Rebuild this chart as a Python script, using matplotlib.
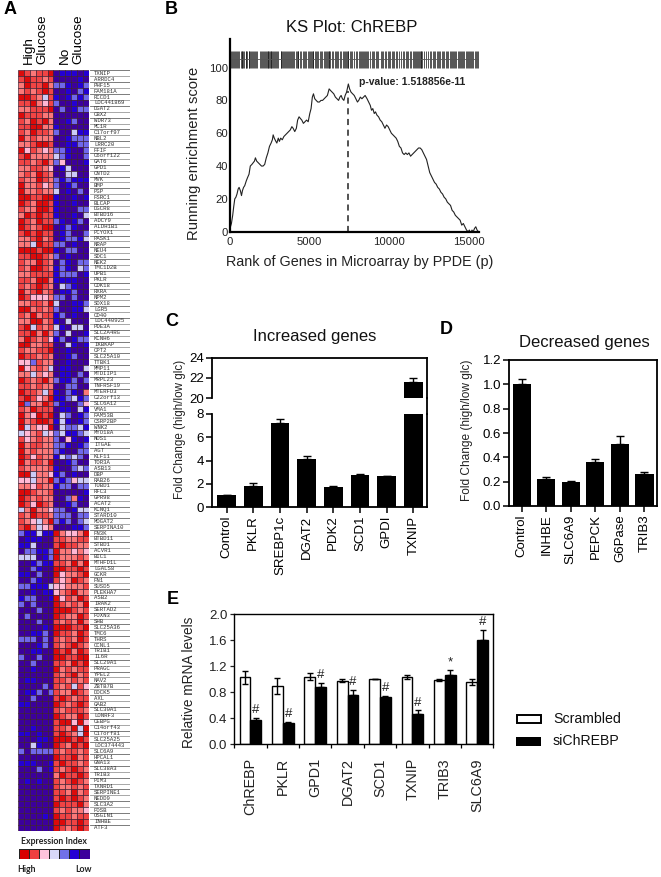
#!/usr/bin/env python3
"""Five-panel figure: expression heatmap, KS plot and three bar panels."""
import matplotlib
matplotlib.use("Agg")
import matplotlib.pyplot as plt
import numpy as np
from matplotlib.colors import ListedColormap
from matplotlib.lines import Line2D
from matplotlib.patches import Rectangle

W, H = 661, 877
plt.rcParams.update({"font.family": ["Liberation Sans", "DejaVu Sans"], "font.size": 9})

# ── Panel A data ──────────────────────────────────────────────────────────────
GENES = [
    "TXNIP", "ARRDC4", "PHF15", "FAM181A", "RCCD1", "LOC441869", "DGAT2", "CBX2", "WDR73", "MC1R",
    "C17orf97", "NBL2", "LRRC20", "FFIF", "C6orf122", "GAT6", "GPD1", "CNTD2", "MVK", "BMP",
    "PGP", "FSRC1", "BLCAP", "DGCR8", "BTBD16", "ADCY9", "ALDH1B1", "PCYOX1", "PASK1", "NRAP",
    "NEU4", "SDC1", "NEK2", "TMC1D2B", "UPB1", "PKLR", "CDK18", "RXRA", "NPM2", "SOX18",
    "LGR5", "CD40", "LOC440925", "PDE3A", "SLC2A4RG", "KCNH6", "IKBKAP", "CPT2", "SLC25A10", "TTBK1",
    "MMP11", "MTDIIP1", "MRPL23", "TNFRSF19", "MTERFD3", "C22orf13", "SLC6A12", "VMA1", "FAM53B", "CSRP2BP",
    "WNK2", "MYO18A", "NOS1", "ITGAE", "AGT", "KLF11", "TOR3A", "ASB13", "DBP", "RAB26",
    "TUBD1", "RFC3", "GPR98", "ACAT2", "KCNQ1", "STARD10", "MOGAT2", "SERPINA10", "FN3K", "BTBD11",
    "STBD1", "ACVR1", "BIC1", "MTHFD1L", "LGALS8", "GCKR", "FN1", "SUSD5", "PLEKHA7", "ASB2",
    "IRAK2", "SERTAD2", "FOXN3", "SHB", "SLC25A36", "TMC6", "THRS", "CCNL1", "TRIB1", "IL6R",
    "SLC29A1", "PRAGC", "YPEL2", "NAV2", "ZBTB7B", "DOCK5", "AXL", "GAB2", "SLC30A1", "LONRF3",
    "CEBPG", "C14orf43", "C17orf81", "SLC25A25", "LOC374443", "SLC6A9", "HPCAL1", "GNA13", "SLC38A3", "TRIB3",
    "PIM3", "TXNRD1", "SERPINE1", "NEDD9", "SLC3A2", "FOSB", "OSGIN1", "INHBE", "ATF3",
]
# one digit per cell, 0 = strongest red ... 7 = darkest indigo
HEAT_ROWS = [
    "012110766676", "101121777767", "201102556765", "212101776756", "001241676565",
    "110231577677", "221110757655", "011122777777", "120102776577", "110022677777",
    "120112577466", "021222776555", "221001776655", "031232556775", "102222456775",
    "112102537776", "221123764777", "212012774477", "122012565666", "022132576577",
    "022122476757", "001100677676", "012001677677", "122001677755", "201011677674",
    "012011567657", "012100765677", "101011765775", "221021765564", "224011557677",
    "000100675577", "110012576777", "122012756755", "120012656745", "221111655576",
    "112002666677", "121012745677", "021021766577", "013332557577", "221120477665",
    "002121577664", "120211657677", "220021674777", "104121467447", "110202574776",
    "201213657655", "002211774676", "122110776777", "011212776577", "335122776777",
    "032124766774", "224232766757", "012102566575", "112122775577", "011241675672",
    "101320665465", "052201567753", "120111766746", "023010745765", "021001646765",
    "042330745546", "432143546654", "132122573676", "021122556765", "021222567755",
    "013122645457", "021120776577", "122221677545", "004223657677", "334220565344",
    "223122655755", "001221777776", "012122775267", "013012776577", "420223557644",
    "120112555755", "123420565754", "102432777665",
    "566466023320", "766677112211", "664777101122", "755665022323", "444765022212",
    "776566112020", "775677001101", "667577032210", "775677132012", "556664332221",
    "776766321022", "655776031201", "575777012120", "777577000121", "757777012201",
    "777577121202", "777767000110", "776657011201", "555757121201", "777657121012",
    "776677010201", "577577001100", "775777112010", "776777021211", "777777121021",
    "766777112121", "777757121413", "766575122012", "775777101211", "667777012101",
    "777777121112", "777777012201", "777777100303", "776777112040", "667677101240",
    "777667000101", "774677012010", "575555121121", "777777011021", "666776101121",
    "777576121012", "777777201101", "767677121012", "777777122121", "777777112021",
    "777777101012", "777777011102", "777777121223", "777767011211", "777777001101",
    "777777012101",
]
HEAT_COLORS = ["#dc0a0a", "#f04444", "#fb7878", "#ffb8d4", "#ccccf6", "#7068ea", "#2400d4", "#3c009c"]
SCALE_COLORS = ["#d80000", "#ee4040", "#ffc4dc", "#d8d8f8", "#7070e8", "#2400d4", "#3c009c"]

# ── Panel B data ──────────────────────────────────────────────────────────────
KS_RANK = [
    0, 60, 120, 200, 260, 330, 400, 470, 540, 600, 680, 750, 810, 880, 950, 1050, 1130, 1220, 1300, 1400,
    1480, 1560, 1620, 1700, 1800, 1900, 2000, 2100, 2200, 2300, 2400, 2500, 2600, 2680, 2730, 2800, 2900, 2960, 3050, 3120,
    3200, 3300, 3400, 3500, 3600, 3700, 3800, 3900, 3980, 4080, 4180, 4260, 4350, 4430, 4520, 4620, 4720, 4820, 4920, 5020,
    5100, 5180, 5250, 5330, 5420, 5520, 5620, 5720, 5820, 5920, 6020, 6120, 6230, 6320, 6420, 6520, 6620, 6720, 6820, 6900,
    6980, 7060, 7150, 7230, 7320, 7430, 7510, 7600, 7700, 7800, 7900, 8000, 8080, 8180, 8280, 8380, 8480, 8600, 8700, 8800,
    8880, 8960, 9050, 9130, 9220, 9320, 9420, 9520, 9620, 9720, 9820, 9920, 10020, 10120, 10220, 10320, 10420, 10520, 10620, 10720,
    10820, 10920, 11020, 11120, 11220, 11320, 11420, 11520, 11620, 11720, 11820, 11920, 12020, 12120, 12220, 12320, 12420, 12520, 12620, 12720,
    12820, 12920, 13020, 13120, 13220, 13320, 13420, 13520, 13620, 13720, 13820, 13920, 14020, 14120, 14220, 14320, 14420, 14520, 14620, 14720,
    14820, 14920, 15000, 15080, 15160, 15240, 15320, 15400, 15480, 15570,
]
KS_SCORE = [
    0, 3, 5, 10, 15, 20, 21, 23, 26, 27, 25, 22, 25, 27, 28, 31, 33, 35, 40, 41,
    42, 43, 45, 43, 42, 41, 40, 40, 41, 45, 48, 52, 54, 56, 59, 57, 55, 54, 57, 55,
    57, 56, 58, 59, 60, 61, 62, 64, 63, 61, 63, 68, 70, 69, 68, 66, 67, 68, 67, 72,
    75, 82, 84, 81, 80, 79, 79, 80, 80, 81, 82, 83, 87, 86, 85, 84, 82, 81, 80, 82,
    83, 81, 80, 83, 85, 90, 87, 85, 84, 83, 81, 79, 80, 82, 81, 82, 83, 81, 79, 77,
    74, 75, 72, 73, 71, 70, 68, 67, 65, 63, 65, 64, 62, 60, 59, 58, 57, 55, 52, 51,
    48, 47, 48, 47, 48, 46, 47, 48, 49, 50, 51, 51, 50, 48, 46, 44, 40, 36, 34, 32,
    30, 29, 27, 26, 24, 23, 21, 20, 18, 17, 16, 13, 12, 10, 9, 8, 7, 4, 5, 3,
    1, 0, 1, -1, 1, 0, 2, 3, 1, 0,
]
KS_PEAK = 7430
KS_HITS = [
    30, 95, 170, 240, 285, 350, 420, 500, 560, 615, 690, 760, 800, 870, 930, 1010, 1060, 1120, 1190, 1240,
    1310, 1345, 1400, 1470, 1530, 1590, 1660, 1750, 1880, 1960, 2040, 2110, 2165, 2215, 2260, 2330, 2395, 2430, 2490, 2530,
    2575, 2610, 2660, 2710, 2770, 2830, 2905, 2990, 3055, 3190, 3240, 3300, 3345, 3400, 3470, 3530, 3580, 3660, 3720, 3790,
    3850, 3905, 3960, 4020, 4130, 4210, 4260, 4310, 4400, 4490, 4575, 4640, 4700, 4800, 4880, 5000, 5060, 5115, 5150, 5195,
    5240, 5320, 5410, 5480, 5560, 5650, 5720, 5800, 5880, 5945, 6010, 6080, 6130, 6190, 6235, 6300, 6390, 6470, 6580, 6650,
    6720, 6790, 6900, 7000, 7070, 7160, 7240, 7300, 7350, 7390, 7430, 7520, 7600, 7690, 7810, 7900, 7990, 8080, 8150, 8230,
    8300, 8370, 8440, 8490, 8540, 8600, 8670, 8790, 8890, 8960, 9050, 9140, 9210, 9310, 9450, 9520, 9590, 9700, 9790, 9880,
    9960, 10030, 10130, 10240, 10300, 10380, 10490, 10600, 10730, 10850, 10930, 11020, 11110, 11190, 11290, 11370, 11450, 11510, 11570, 11640,
    11720, 11790, 11860, 11900, 11950, 12000, 12060, 12160, 12280, 12400, 12510, 12590, 12700, 12790, 12880, 12950, 13040, 13130, 13190, 13280,
    13340, 13420, 13510, 13590, 13670, 13760, 13830, 13890, 13960, 14030, 14100, 14180, 14260, 14330, 14410, 14470, 14550, 14610, 14690, 14760,
    14820, 14900, 14970, 15030, 15110, 15180, 15250, 15330, 15400, 15470, 15530,
]

# ── Panel C data ──────────────────────────────────────────────────────────────
INC_GENES = ["Control", "PKLR", "SREBP1c", "DGAT2", "PDK2", "SCD1", "GPDI", "TXNIP"]
INC_VALUES = [1.05, 1.85, 7.25, 4.15, 1.75, 2.8, 2.65, 21.6]
INC_ERR = [0.03, 0.2, 0.3, 0.25, 0.05, 0.03, 0.06, 0.4]

# ── Panel D data ──────────────────────────────────────────────────────────────
DEC_GENES = ["Control", "INHBE", "SLC6A9", "PEPCK", "G6Pase", "TRIB3"]
DEC_VALUES = [1.0, 0.22, 0.195, 0.36, 0.51, 0.265]
DEC_ERR = [0.04, 0.015, 0.01, 0.025, 0.065, 0.012]

# ── Panel E data ──────────────────────────────────────────────────────────────
MRNA_GENES = ["ChREBP", "PKLR", "GPD1", "DGAT2", "SCD1", "TXNIP", "TRIB3", "SLC6A9"]
SCRAMBLED = [1.03, 0.9, 1.04, 0.98, 1.0, 1.03, 0.99, 0.96]
SCRAMBLED_ERR = [0.1, 0.12, 0.05, 0.02, 0.0, 0.03, 0.02, 0.05]
SICHREBP = [0.38, 0.33, 0.88, 0.76, 0.73, 0.47, 1.07, 1.6]
SICHREBP_ERR = [0.03, 0.015, 0.07, 0.07, 0.02, 0.05, 0.07, 0.16]
MRNA_MARKS = ["#", "#", "#", "#", "#", "#", "*", "#"]


def px_axes(fig, left, top, right, bottom):
    """Axes placed by pixel box, y counted from the top of the image."""
    return fig.add_axes([left / W, 1 - bottom / H, (right - left) / W, (bottom - top) / H])


def fig_text(fig, x, y, s, **kw):
    kw.setdefault("ha", "center")
    kw.setdefault("va", "center")
    return fig.text(x / W, 1 - y / H, s, **kw)


def style_bars(ax, size):
    ax.tick_params(axis="y", length=4, width=1.1, labelsize=size, pad=1.5)
    ax.tick_params(axis="x", length=4, width=1.1, labelsize=size, pad=2, labelrotation=90)
    for side in ax.spines.values():
        side.set_linewidth(1.3)


fig = plt.figure(figsize=(W / 100, H / 100), dpi=100)

# ── A: heatmap ────────────────────────────────────────────────────────────────
codes = np.array([[int(c) for c in row] for row in HEAT_ROWS])
ax = px_axes(fig, 18, 70.5, 89, 830.7)
ax.pcolormesh(codes, cmap=ListedColormap(HEAT_COLORS), vmin=-0.5, vmax=7.5,
              edgecolors="#3a1c30", linewidth=0.45, antialiased=True)
ax.set_ylim(len(GENES), 0)
ax.axis("off")
ax_lab = px_axes(fig, 89.5, 70.5, 130, 830.7)
ax_lab.set_xlim(0, 40.5)
ax_lab.set_ylim(len(GENES), 0)
ax_lab.axis("off")
for i, gene in enumerate(GENES):
    ax_lab.axhline(i, color="#999999" if i % 2 else "#666666", lw=0.6)
    ax_lab.text(4.5, i + 0.5, gene, fontsize=4.1, family="Liberation Mono", color="#333333",
                va="center", ha="left")
ax_lab.axhline(len(GENES), color="#666666", lw=0.6)

fig_text(fig, 29, 64, "High", rotation=90, fontsize=9.7, va="bottom")
fig_text(fig, 42, 64, "Glucose", rotation=90, fontsize=9.7, va="bottom")
fig_text(fig, 65, 64, "No", rotation=90, fontsize=9.7, va="bottom")
fig_text(fig, 78, 64, "Glucose", rotation=90, fontsize=9.7, va="bottom")

fig_text(fig, 54, 841, "Expression Index", fontsize=6.3, family="Lato", fontweight="bold", color="#222222")
ax = px_axes(fig, 19, 849, 89.5, 859)
ax.pcolormesh(np.arange(len(SCALE_COLORS))[None, :], cmap=ListedColormap(SCALE_COLORS),
              edgecolors="#222222", linewidth=0.4)
ax.axis("off")
fig_text(fig, 26, 869, "High", fontsize=6.3, family="Lato", fontweight="bold", color="#222222")
fig_text(fig, 84, 869, "Low", fontsize=6.3, family="Lato", fontweight="bold", color="#222222")

# ── B: KS plot ────────────────────────────────────────────────────────────────
ax = px_axes(fig, 229.5, 39, 479, 231.7)
ax.plot(KS_RANK, KS_SCORE, color="#222222", lw=0.8)
ax.vlines(KS_HITS, 100, 110, color="#111111", lw=0.5)
ax.plot([0, 15600], [105, 105], color="#555555", lw=0.6)
ax.plot([KS_PEAK, KS_PEAK], [0, 86], color="#222222", lw=1.1, ls=(0, (4, 3)))
ax.plot([0], [0], "k.", ms=3)
ax.set_xlim(0, 15600)
ax.set_ylim(0, 117.4)
ax.set_xticks([0, 5000, 10000, 15000])
ax.set_yticks([0, 20, 40, 60, 80, 100])
ax.tick_params(axis="x", length=0, labelsize=8.1, pad=3.5, colors="#222222")
ax.tick_params(axis="y", length=0, labelsize=8.1, pad=1, colors="#222222")
ax.spines[["top", "right"]].set_visible(False)
ax.spines[["left", "bottom"]].set_linewidth(1.6)
ax.patch.set_visible(False)
fig_text(fig, 359, 82, "p-value: 1.518856e-11", ha="left", fontsize=7.5, fontweight="bold", color="#222222")
fig_text(fig, 352, 28, "KS Plot: ChREBP", fontsize=12, color="#111111")
fig_text(fig, 360, 262, "Rank of Genes in Microarray by PPDE (p)", fontsize=10.4, color="#222222")
fig_text(fig, 194, 153, "Running enrichment score", rotation=90, fontsize=10.6, color="#222222")

# ── C: increased genes, broken axis ───────────────────────────────────────────
x_inc = np.arange(len(INC_GENES))
ax_top = px_axes(fig, 211.7, 357.7, 426.7, 398.3)
ax_low = px_axes(fig, 211.7, 414, 426.7, 507.3)
for ax in (ax_top, ax_low):
    ax.bar(x_inc, INC_VALUES, width=0.71, color="black")
    ax.errorbar(x_inc, INC_VALUES, yerr=[np.zeros(len(INC_ERR)), INC_ERR], fmt="none",
                ecolor="black", elinewidth=1, capsize=3, capthick=1)
    ax.set_xlim(-0.56, 7.5)
ax_top.set_ylim(20, 24)
ax_top.set_yticks([20, 22, 24])
ax_top.spines["bottom"].set_visible(False)
ax_top.tick_params(axis="x", bottom=False, labelbottom=False)
ax_low.set_ylim(0, 8)
ax_low.set_yticks([0, 2, 4, 6, 8])
ax_low.spines[["top"]].set_visible(False)
ax_low.set_xticks(x_inc, INC_GENES)
style_bars(ax_top, 9.5)
style_bars(ax_low, 9.5)
fig.add_artist(Line2D([426.7 / W] * 2, [1 - 398.3 / H, 1 - 414 / H], color="black", lw=1.3))
fig_text(fig, 180, 429, "Fold Change (high/low glc)", rotation=90, fontsize=8.4, color="#222222")
fig_text(fig, 315, 337, "Increased genes", fontsize=12, color="#111111")

# ── D: decreased genes ────────────────────────────────────────────────────────
x_dec = np.arange(len(DEC_GENES))
ax = px_axes(fig, 509, 360, 657, 506)
ax.bar(x_dec, DEC_VALUES, width=0.74, color="black")
ax.errorbar(x_dec, DEC_VALUES, yerr=[np.zeros(len(DEC_ERR)), DEC_ERR], fmt="none",
            ecolor="black", elinewidth=1, capsize=3, capthick=1)
ax.set_xlim(-0.52, 5.51)
ax.set_ylim(0, 1.2)
ax.set_yticks([0, 0.2, 0.4, 0.6, 0.8, 1.0, 1.2], ["0.0", "0.2", "0.4", "0.6", "0.8", "1.0", "1.2"])
ax.set_xticks(x_dec, DEC_GENES)
style_bars(ax, 9.5)
fig_text(fig, 467, 430, "Fold Change (high/low glc)", rotation=90, fontsize=8.6, color="#222222")
fig_text(fig, 584, 342, "Decreased genes", fontsize=12, color="#111111")

# ── E: relative mRNA levels ───────────────────────────────────────────────────
x_mrna = np.arange(len(MRNA_GENES))
ax = px_axes(fig, 234.3, 614.3, 493.3, 744.3)
bw = 0.335
ax.bar(x_mrna - bw / 2, SCRAMBLED, width=bw, color="white", edgecolor="black", lw=1.0)
ax.errorbar(x_mrna - bw / 2, SCRAMBLED, yerr=SCRAMBLED_ERR, fmt="none", ecolor="black",
            elinewidth=1, capsize=2.5, capthick=1)
ax.bar(x_mrna + bw / 2, SICHREBP, width=bw, color="black", edgecolor="black", lw=1.0)
ax.errorbar(x_mrna + bw / 2, SICHREBP, yerr=[np.zeros(len(SICHREBP_ERR)), SICHREBP_ERR], fmt="none",
            ecolor="black", elinewidth=1, capsize=2.5, capthick=1)
for xi, val, err, mark in zip(x_mrna, SICHREBP, SICHREBP_ERR, MRNA_MARKS):
    ax.text(xi + bw / 2, val + err + 0.03, mark, ha="center", va="bottom", fontsize=9.5, color="#222222")
ax.set_xlim(-0.5, 7.5)
ax.set_ylim(0, 2)
ax.set_yticks([0, 0.4, 0.8, 1.2, 1.6, 2.0], ["0.0", "0.4", "0.8", "1.2", "1.6", "2.0"])
ax.set_xticks(np.arange(9) - 0.5, [""] * 9)
ax.set_xticks(x_mrna, MRNA_GENES, minor=True)
ax.tick_params(axis="x", which="major", length=3, width=0.9)
ax.tick_params(axis="x", which="minor", length=0, labelsize=10.4, pad=10, labelrotation=90,
               colors="#222222")
ax.tick_params(axis="y", length=3, width=0.9, labelsize=9.5, pad=2, colors="#222222")
for side in ax.spines.values():
    side.set_linewidth(1.0)
fig_text(fig, 189, 682, "Relative mRNA levels", rotation=90, fontsize=9.8, color="#222222")
fig.add_artist(Rectangle((516.5 / W, 1 - 723 / H), 24 / W, 8 / H, facecolor="white", edgecolor="black", lw=1.4,
                         transform=fig.transFigure))
fig.add_artist(Rectangle((516 / W, 1 - 746 / H), 25 / W, 9 / H, facecolor="black", edgecolor="none",
                         transform=fig.transFigure))
fig_text(fig, 553, 719, "Scrambled", ha="left", fontsize=10.2, color="#111111")
fig_text(fig, 553, 741, "siChREBP", ha="left", fontsize=10.2, color="#111111")

# ── Panel letters ─────────────────────────────────────────────────────────────
for letter, x, y in [("A", 10, 10), ("B", 171, 9), ("C", 172, 322), ("D", 446, 330), ("E", 173, 600)]:
    fig_text(fig, x, y, letter, fontsize=13, fontweight="bold", color="black")

fig.savefig("out.png", dpi=100)
